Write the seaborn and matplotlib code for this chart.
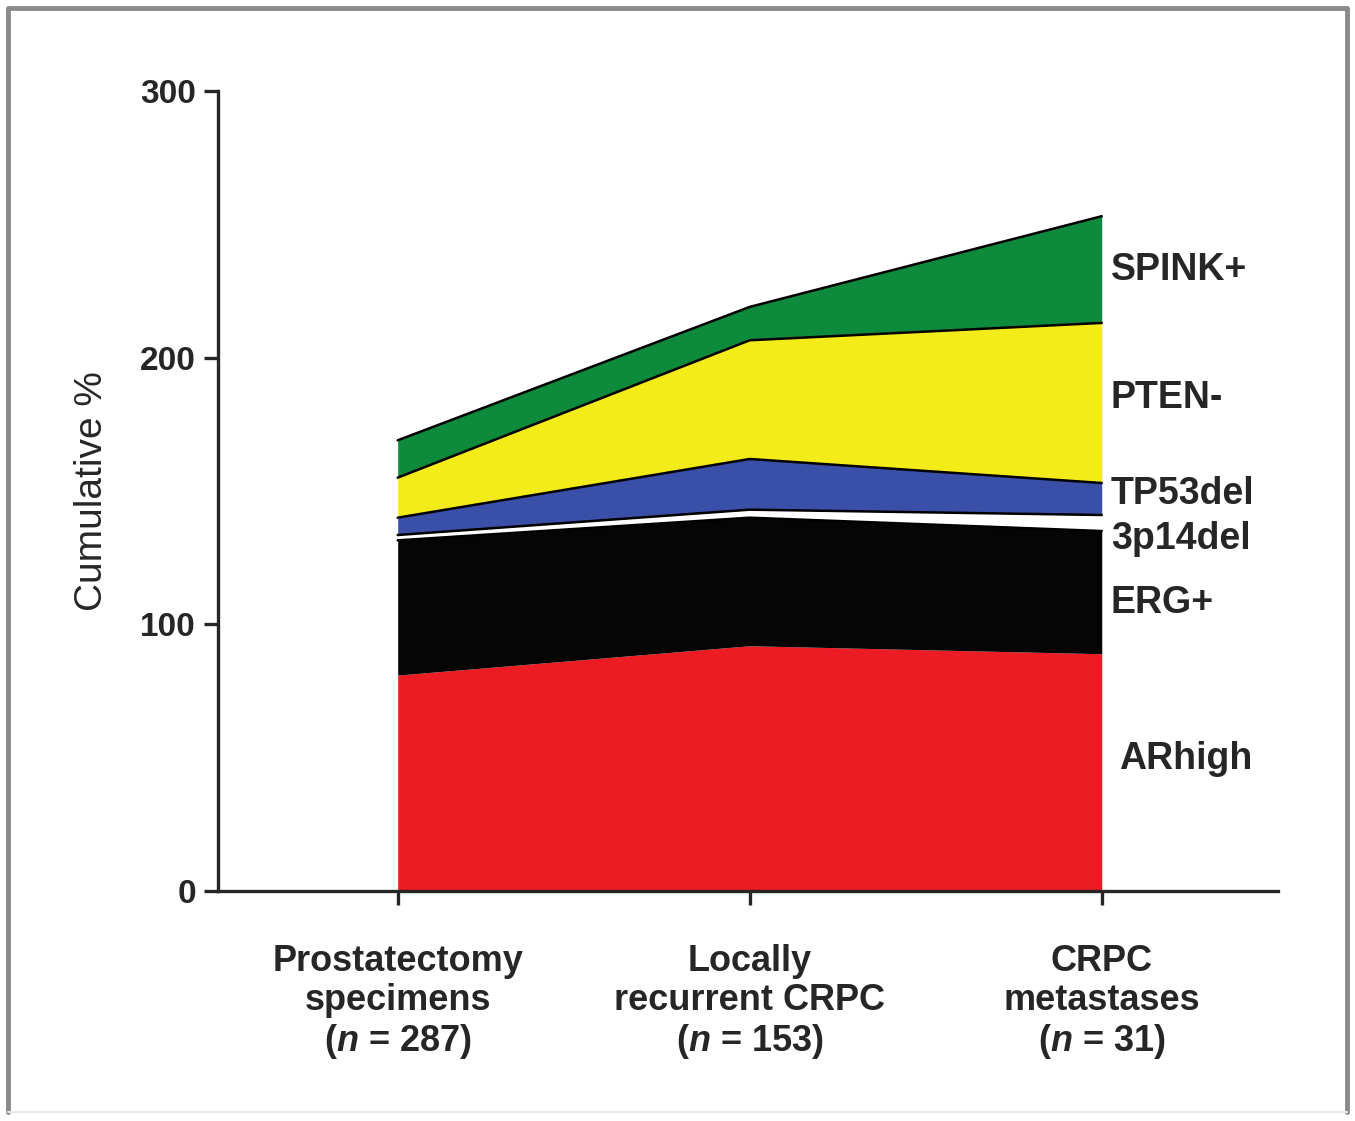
import numpy as np
import matplotlib
matplotlib.use('Agg')
import matplotlib.pyplot as plt
import seaborn as sns

# groups on the x axis
groups = ['Prostatectomy\nspecimens\n($\\mathit{n}$ = 287)',
          'Locally\nrecurrent CRPC\n($\\mathit{n}$ = 153)',
          'CRPC\nmetastases\n($\\mathit{n}$ = 31)']

# layer heights (% of samples), bottom to top
layers = ['ARhigh', 'ERG+', '3p14del', 'TP53del', 'PTEN-', 'SPINK+']
arhigh = [81, 92, 89]
erg = [50.5, 48, 46]
p14del = [2, 3, 6]
tp53del = [6.5, 19, 12]
pten = [15, 44.5, 60]
spink = [14, 12.5, 40]

colors = ['#ec1c24', '#050505', '#ffffff', '#3a50a8', '#f3ec19', '#0e8a3c']

sns.set_style('ticks')
plt.rcParams['font.family'] = ['Liberation Sans', 'DejaVu Sans']
plt.rcParams['mathtext.fontset'] = 'custom'
plt.rcParams['mathtext.it'] = 'Liberation Sans:italic:bold'
plt.rcParams['mathtext.rm'] = 'Liberation Sans:bold'

fig = plt.figure(figsize=(13.55, 11.21), dpi=100)
ax = fig.add_axes([0.161, 0.205, 0.782, 0.714])

x = np.arange(len(groups))
vals = np.array([arhigh, erg, p14del, tp53del, pten, spink])
ax.stackplot(x, vals, colors=colors, linewidth=0)
# black rims on the upper edges of the bands
cum = vals.cumsum(axis=0)
for row in cum[1:]:
    ax.plot(x, row, color='black', lw=1.8)

ax.set_xlim(-0.51, 2.5)
ax.set_ylim(0, 300)
ax.set_yticks([0, 100, 200, 300])
ax.set_xticks(x)
ax.set_xticklabels(groups, fontsize=26, fontweight='bold', linespacing=1.15)
ax.tick_params(axis='y', labelsize=24, width=2.4, length=10, pad=6)
ax.tick_params(axis='x', width=2.4, length=10, pad=28)
for t in ax.get_yticklabels():
    t.set_fontweight('bold')
ax.set_ylabel('Cumulative %', fontsize=28, labelpad=22)
sns.despine(ax=ax, top=True, right=True)
for s in ['left', 'bottom']:
    ax.spines[s].set_linewidth(2.4)

# right-hand labels at band middles of the last group
mids = cum[:, -1] - vals[:, -1] / 2
nudge = [5, -4, -6, 2, 2, 0]
for name, m, d in zip(layers, mids, nudge):
    dx = 2.05 if name == 'ARhigh' else 2.026
    ax.text(dx, m + d, name, fontsize=27, fontweight='bold', va='center', ha='left')

# grey frame around the figure
fr = dict(transform=fig.transFigure, color='#8a8a8a', lw=3.5)
fig.add_artist(plt.Line2D([0.006, 0.006, 0.994, 0.994], [0.008, 0.993, 0.993, 0.008], **fr))
fig.add_artist(plt.Line2D([0.006, 0.994], [0.008, 0.008], transform=fig.transFigure,
                          color='#e8e8e8', lw=1.5))

fig.savefig('out.png', dpi=100)
